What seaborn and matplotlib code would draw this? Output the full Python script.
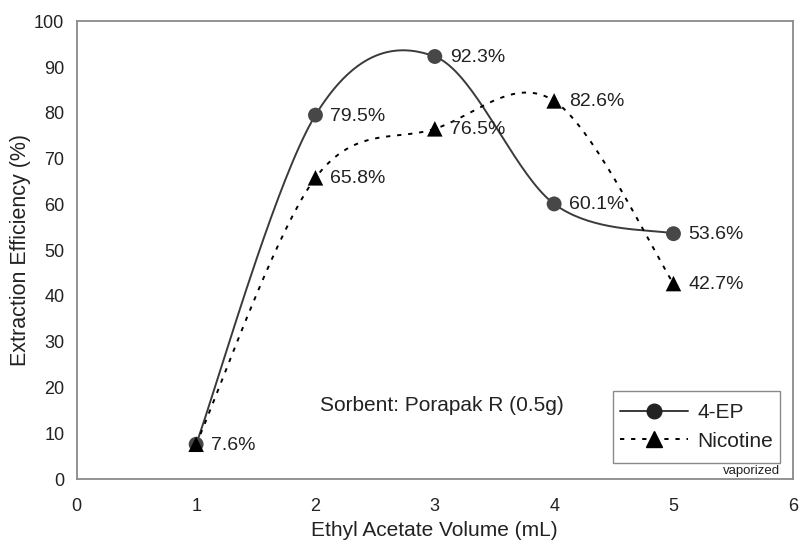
import numpy as np
import pandas as pd
import matplotlib
matplotlib.use("Agg")
import matplotlib.pyplot as plt
from matplotlib.lines import Line2D
from matplotlib.patches import Rectangle
import seaborn as sns

# ---- data ----
volume = [1, 2, 3, 4, 5]
ep4 = [7.6, 79.5, 92.3, 60.1, 53.6]
nicotine = [7.6, 65.8, 76.5, 82.6, 42.7]
ep4_labels = ["7.6%", "79.5%", "92.3%", "60.1%", "53.6%"]
nic_labels = ["", "65.8%", "76.5%", "82.6%", "42.7%"]
x_ticks = [0, 1, 2, 3, 4, 5, 6]
y_ticks = [0, 10, 20, 30, 40, 50, 60, 70, 80, 90, 100]

sns.set_theme(style="white")
plt.rcParams["font.family"] = ["Liberation Sans", "DejaVu Sans"]


def smooth(xs, ys, n=40):
    """Excel-like smoothed line (Bezier through data points)."""
    P = np.column_stack([xs, ys]).astype(float)
    out = []
    m = len(P)
    for i in range(m - 1):
        p0 = P[i - 1] if i > 0 else P[i]
        p3 = P[i + 2] if i + 2 < m else P[i + 1]
        c1 = P[i] + (P[i + 1] - p0) / 6.0
        c2 = P[i + 1] - (p3 - P[i]) / 6.0
        t = np.linspace(0, 1, n)[:, None]
        seg = ((1 - t) ** 3) * P[i] + 3 * ((1 - t) ** 2) * t * c1 + 3 * (1 - t) * t ** 2 * c2 + t ** 3 * P[i + 1]
        if i > 0:
            seg = seg[1:]
        out.append(seg)
    out = np.vstack(out)
    return out[:, 0], out[:, 1]


sx1, sy1 = smooth(volume, ep4)
sx2, sy2 = smooth(volume, nicotine)
curve_ep = pd.DataFrame({"x": sx1, "y": sy1})
curve_nic = pd.DataFrame({"x": sx2, "y": sy2})
pts_ep = pd.DataFrame({"x": volume, "y": ep4})
pts_nic = pd.DataFrame({"x": volume, "y": nicotine})

fig = plt.figure(figsize=(8, 5.45), dpi=100)
ax = fig.add_axes([0.096, 0.121, 0.895, 0.840])

line_col = "#3a3a3a"
sns.lineplot(data=curve_ep, x="x", y="y", ax=ax, color=line_col, lw=1.4, sort=False, estimator=None)
sns.lineplot(data=curve_nic, x="x", y="y", ax=ax, color="black", lw=1.4, sort=False, estimator=None,
             linestyle=(0, (2.2, 3.5)))
sns.scatterplot(data=pts_ep, x="x", y="y", ax=ax, color="#474747", marker="o", s=115, edgecolor="none", zorder=4)
sns.scatterplot(data=pts_nic, x="x", y="y", ax=ax, color="black", marker="^", s=125, edgecolor="none", zorder=5)

for xv, yv, lab in zip(volume, ep4, ep4_labels):
    if lab:
        ax.annotate(lab, (xv, yv), xytext=(15, -1), textcoords="offset pixels",
                    ha="left", va="center", fontsize=14, color="#222222")
for xv, yv, lab in zip(volume, nicotine, nic_labels):
    if lab:
        ax.annotate(lab, (xv, yv), xytext=(15, -1), textcoords="offset pixels",
                    ha="left", va="center", fontsize=14, color="#222222")

ax.set_xlim(0, 6)
ax.set_ylim(0, 100)
ax.set_xticks(x_ticks)
ax.set_yticks(y_ticks)
ax.set_xlabel("Ethyl Acetate Volume (mL)", fontsize=15, color="#222222", labelpad=4)
ax.set_ylabel("Extraction Efficiency (%)", fontsize=15.5, color="#222222", labelpad=2)
ax.tick_params(axis="both", direction="out", length=5, width=1, color="#888888",
               labelsize=13, labelcolor="#222222")
ax.tick_params(axis="x", pad=9)
ax.tick_params(axis="y", pad=4)
for sp in ax.spines.values():
    sp.set_visible(True)
    sp.set_color("#8a8a8a")
    sp.set_linewidth(1.3)

ax.text(0.51, 0.16, "Sorbent: Porapak R (0.5g)", transform=ax.transAxes,
        ha="center", va="center", fontsize=15, color="#222222")

# legend frame drawn separately (taller padding than wide)
box_x0, box_y0, box_x1, box_y1 = 0.749, 0.035, 0.982, 0.192
ax.add_patch(Rectangle((box_x0, box_y0), box_x1 - box_x0, box_y1 - box_y0, transform=ax.transAxes,
                       facecolor="white", edgecolor="#8a8a8a", lw=1.0, zorder=6))

handles = [
    Line2D([], [], color=line_col, lw=1.4, marker="o", markersize=10.5, markerfacecolor="#222222",
           markeredgecolor="#222222"),
    Line2D([], [], color="black", lw=1.4, linestyle=(0, (2.2, 3.5)), marker="^", markersize=11,
           markerfacecolor="black", markeredgecolor="black"),
]
leg = ax.legend(handles, ["4-EP", "Nicotine"], loc="center",
                bbox_to_anchor=((box_x0 + box_x1) / 2, (box_y0 + box_y1) / 2),
                borderaxespad=0, fontsize=15, handlelength=3.3, handletextpad=0.45,
                frameon=False, borderpad=0.0, labelspacing=0.45)
leg.set_zorder(7)
for t in leg.get_texts():
    t.set_color("#222222")

ax.text(0.982, 0.017, "vaporized", transform=ax.transAxes, ha="right", va="center",
        fontsize=9.5, color="#222222")

fig.savefig("out.png", dpi=100)
